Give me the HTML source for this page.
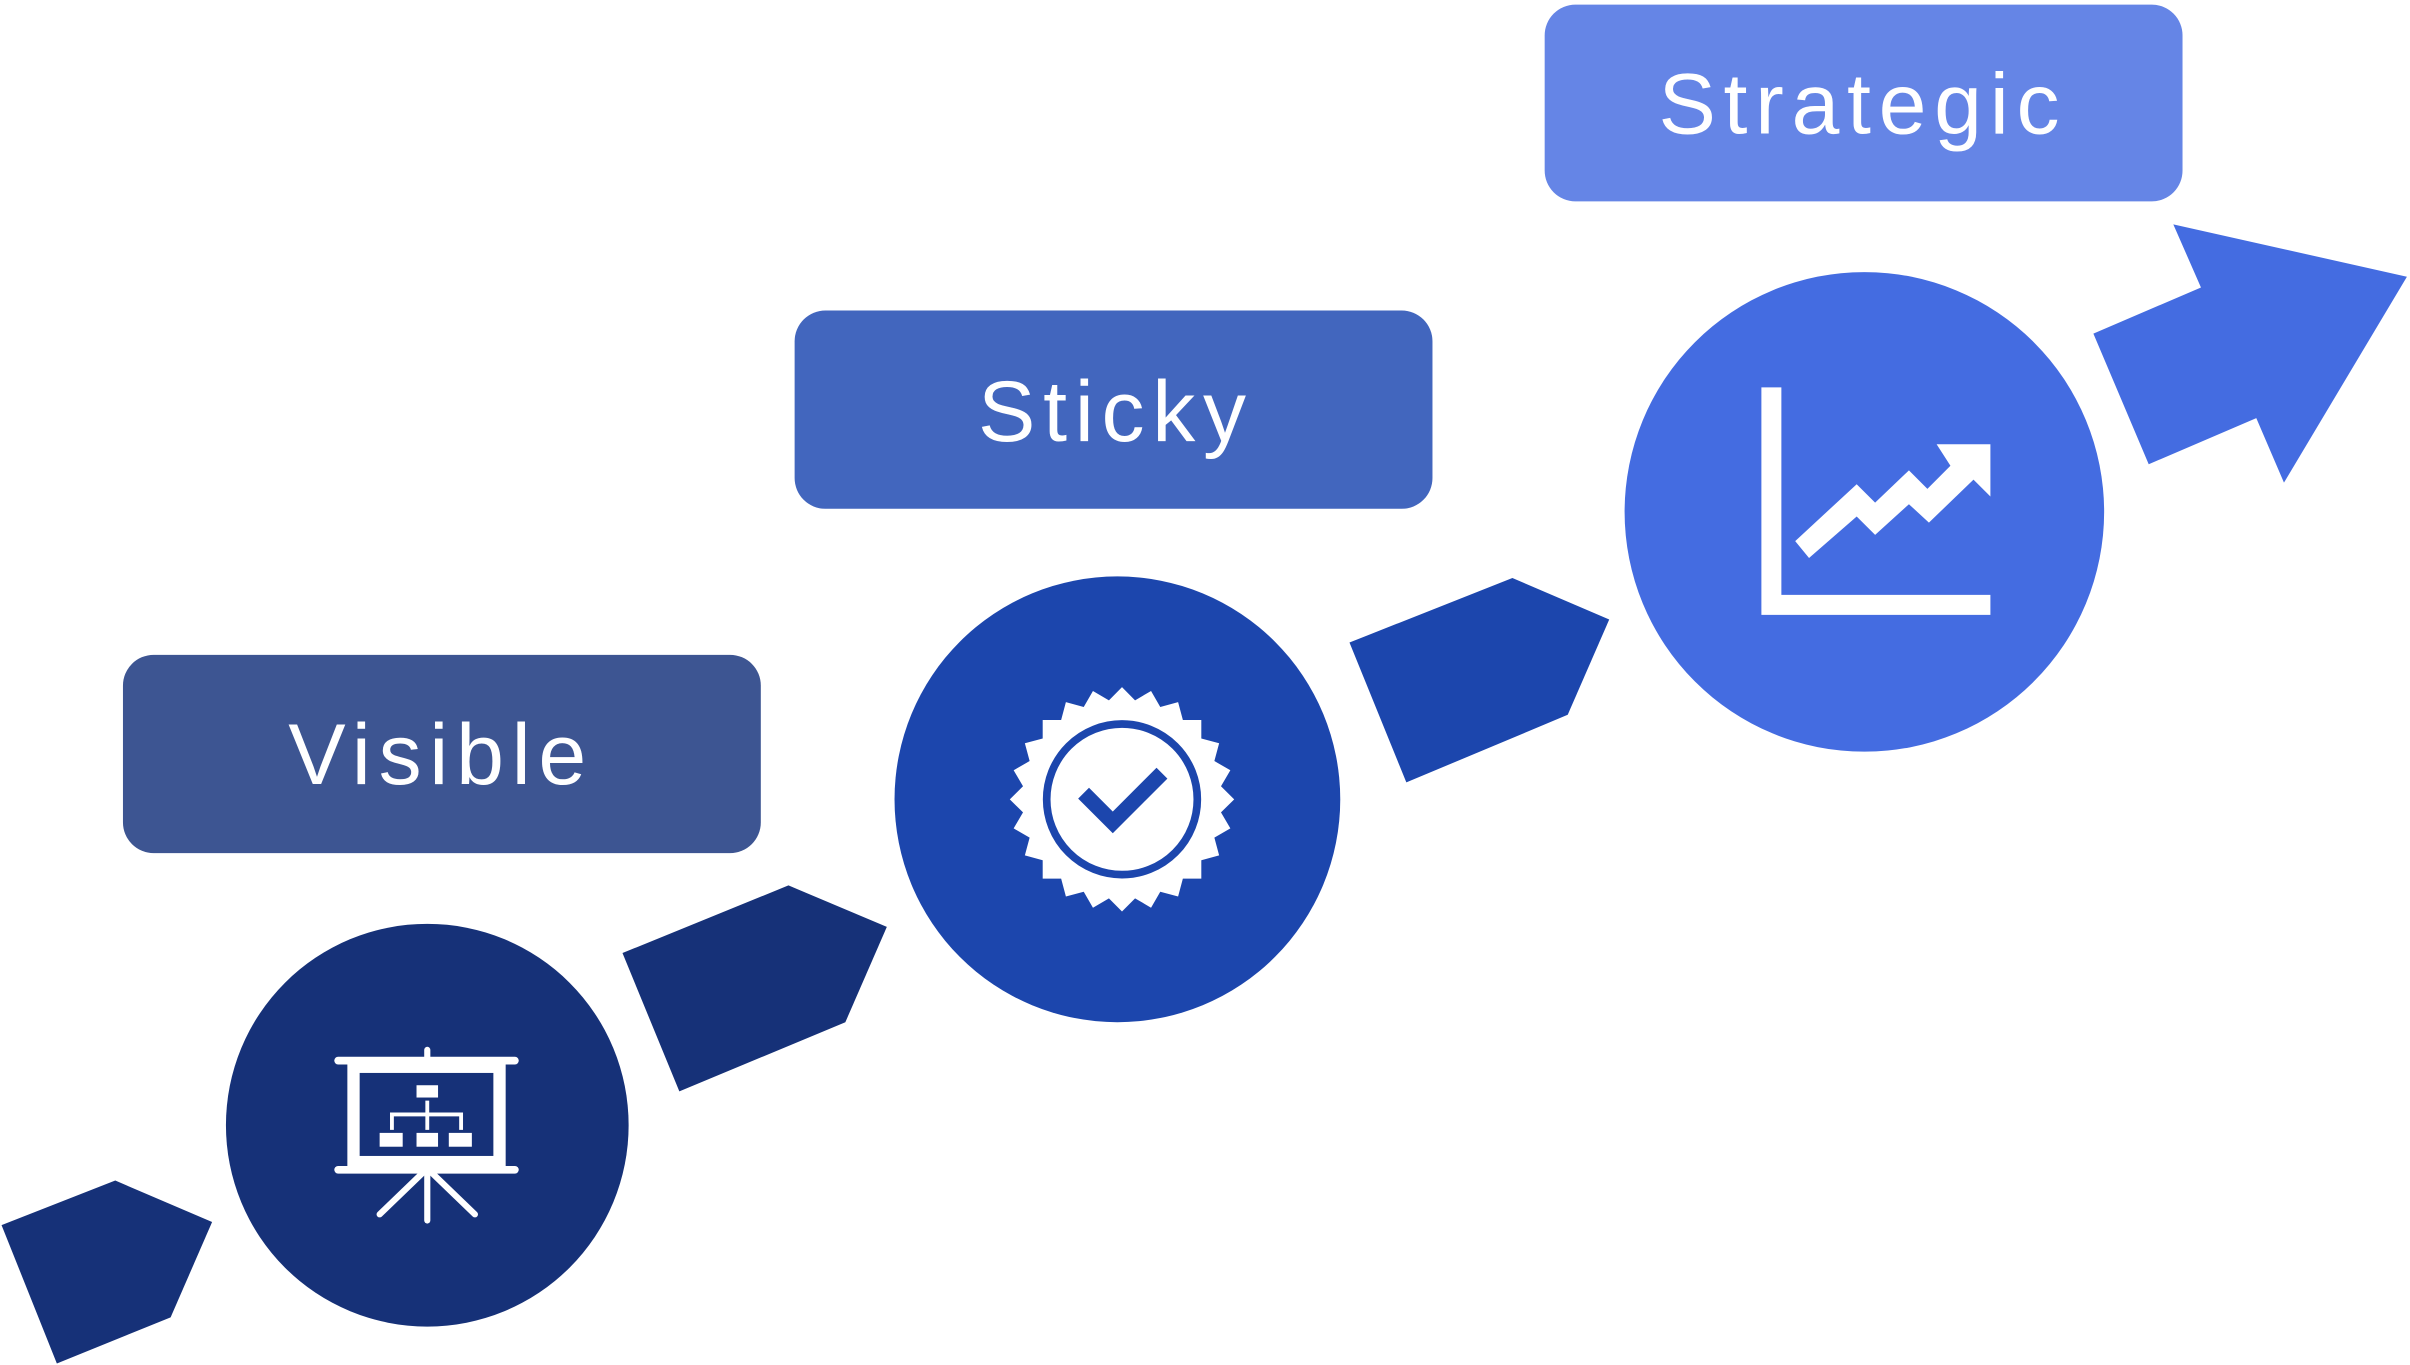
<!DOCTYPE html>
<html><head><style>html,body{margin:0;padding:0;background:#fff;}svg{display:block}
text{font-family:"Liberation Sans",sans-serif;fill:#fff;font-size:56px;letter-spacing:5px;text-anchor:middle}</style></head>
<body>
<svg width="2410" height="1365" viewBox="0 0 1568 888" preserveAspectRatio="none" xmlns="http://www.w3.org/2000/svg">
<rect x="80" y="426" width="415" height="129" rx="20" fill="#3d5592"/>
<text x="287" y="510">Visible</text>
<rect x="517" y="202" width="415" height="129" rx="20" fill="#4266be"/>
<text x="726" y="287">Sticky</text>
<rect x="1005" y="3" width="415" height="128" rx="20" fill="#6585e6"/>
<text x="1212" y="87">Strategic</text>

<polygon points="1,797 75,768 138,795 111,857 37,887" fill="#163178"/>
<polygon points="405,620 513,576 577,603 550,665 442,710" fill="#163178"/>
<polygon points="878,418 984,376 1047,403 1020,465 915,509" fill="#1c46ad"/>
<polygon points="1362,217 1432,187 1414,146 1566,180 1486,314 1468,272 1398,302" fill="#446ce1"/>

<circle cx="278" cy="732" r="131" fill="#163178"/>
<circle cx="727" cy="520" r="145" fill="#1c46ad"/>
<circle cx="1213" cy="333" r="156" fill="#446ce1"/>

<!-- presentation icon -->
<g fill="#fff" stroke="#fff">
<line x1="220" y1="690" x2="335" y2="690" stroke-width="5" stroke-linecap="round"/>
<line x1="278" y1="683" x2="278" y2="690" stroke-width="4" stroke-linecap="round"/>
<rect x="230" y="694" width="95" height="62" fill="none" stroke-width="8"/>
<line x1="220" y1="761" x2="335" y2="761" stroke-width="5" stroke-linecap="round"/>
<line x1="278" y1="761" x2="278" y2="794" stroke-width="4" stroke-linecap="round"/>
<line x1="275" y1="763" x2="247" y2="790" stroke-width="4" stroke-linecap="round"/>
<line x1="281" y1="763" x2="309" y2="790" stroke-width="4" stroke-linecap="round"/>
<rect x="271" y="706" width="14" height="8" stroke="none"/>
<rect x="247" y="737" width="15" height="9" stroke="none"/>
<rect x="271" y="737" width="14" height="9" stroke="none"/>
<rect x="292" y="737" width="15" height="9" stroke="none"/>
<path d="M255 735 V725 H300 V735 M278 716 V735" fill="none" stroke-width="2.5"/>
</g>

<!-- badge icon -->
<polygon id="star" fill="#fff" points=""/>
<circle cx="730" cy="520" r="49" fill="none" stroke="#1c46ad" stroke-width="5"/>
<polyline points="705,516 724,535 756,503" fill="none" stroke="#1c46ad" stroke-width="10"/>

<!-- chart icon -->
<g fill="#fff">
<polygon points="1146,252 1159,252 1159,387 1295,387 1295,400 1146,400"/>
<polygon points="1168,352 1208,315 1220,327 1242,306 1254,318 1269,303 1260,289 1295,289 1295,323 1284,312 1255,340 1242,328 1220,348 1208,336 1177,363"/>
</g>
</svg>
<script>
var p=[],cx=730,cy=520,n=24;
for(var i=0;i<n*2;i++){var a=Math.PI*i/n-Math.PI/2,r=i%2?65:73;p.push((cx+r*Math.cos(a)).toFixed(1)+","+(cy+r*Math.sin(a)).toFixed(1));}
document.getElementById("star").setAttribute("points",p.join(" "));
</script>
</body></html>
